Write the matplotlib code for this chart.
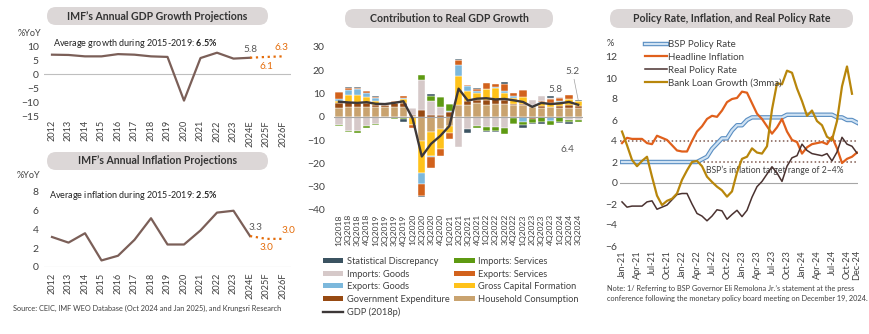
import numpy as np
import matplotlib
matplotlib.use("Agg")
import matplotlib.pyplot as plt
from matplotlib.patches import FancyBboxPatch, Patch
from matplotlib.lines import Line2D
import matplotlib.patheffects as pe

plt.rcParams["font.family"] = ["Lato", "DejaVu Sans"]
plt.rcParams["mathtext.fontset"] = "custom"
plt.rcParams["mathtext.rm"] = "Lato"
plt.rcParams["mathtext.bf"] = "Lato:bold"

# ---------------- data ----------------
years = ["2012", "2013", "2014", "2015", "2016", "2017", "2018", "2019",
         "2020", "2021", "2022", "2023", "2024E", "2025F", "2026F"]
gdp_hist = [6.9, 6.8, 6.3, 6.3, 7.1, 6.9, 6.3, 6.1, -9.5, 5.7, 7.6, 5.5, 5.8]
gdp_proj = [5.8, 6.1, 6.3]
cpi_hist = [3.2, 2.6, 3.6, 0.7, 1.2, 2.9, 5.2, 2.4, 2.4, 3.9, 5.8, 6.0, 3.3]
cpi_proj = [3.3, 3.0, 3.0]

quarters = [f"{q}Q{y}" for y in range(2018, 2025) for q in range(1, 5)][:27]
household = [4.0, 4.1, 4.1, 4.3, 4.4, 4.2, 4.4, 4.4, 0.2, -10.4, -6.6, -5.4, -4.0, 4.9,
             5.3, 6.0, 5.3, 5.6, 5.7, 5.0, 4.9, 4.3, 4.0, 4.2, 4.0, 3.7, 3.9]
government = [1.8, 2.1, 1.9, 1.6, 0.9, 0.9, 1.4, 1.6, 0.5, 2.9, 0.7, 0.7, 2.0, -0.7,
              1.4, 1.4, 2.1, 1.9, 1.6, 0.4, 0.8, -0.8, 0.5, 0.1, 0.7, 1.3, 0.7]
capital = [1.1, 3.3, 3.4, 2.8, 1.3, 0.2, 0.1, 1.6, -3.3, -13.6, -10.3, -8.6, -2.9, 12.6,
           4.6, 2.9, 4.6, 5.0, 3.0, 2.5, 2.7, 0.5, 1.3, 1.6, 1.7, 2.6, 2.0]
exp_goods = [0.8, 1.9, 2.6, 1.5, 1.4, 0.0, 0.3, 0.6, -0.4, -4.7, -0.3, 0.0, 0.7, 4.7,
             1.9, 1.0, 0.0, 0.4, 0.6, 1.1, -2.3, 0.3, 0.4, -1.9, 0.6, 0.2, -0.6]
exp_serv = [2.9, 1.0, 0.5, 0.9, 0.7, 0.3, 0.4, 0.8, -0.9, -5.3, -4.6, -2.9, -2.6, 2.1,
            0.6, 0.6, 2.6, 1.0, 3.0, 1.3, 3.0, 0.1, 0.8, 1.6, 1.2, 1.5, 0.4]
imp_goods = [-3.4, -6.0, -6.1, -3.8, -3.0, -0.2, -0.3, -0.2, 3.2, 13.1, 6.0, 3.7, 0.0, -12.1,
             -5.1, -4.0, -4.3, -4.3, -4.7, -0.3, 0.0, 2.2, 1.9, 0.5, 0.4, -1.3, -0.8]
imp_serv = [-0.6, -0.7, -0.7, -1.0, -0.5, -0.3, -0.5, -0.6, 0.0, 1.9, 2.3, 4.1, 2.9, 0.0,
            0.0, -0.6, -1.9, -1.6, -2.6, -2.6, -1.3, -1.7, -2.3, -1.5, -2.0, -0.9, -0.8]
stat_disc = [0.0, 0.6, 0.3, 0.0, 0.4, 0.4, 0.2, -1.5, 0.0, -0.6, 1.0, 0.1, 0.0, 0.6,
             -1.7, 0.5, -0.4, -0.5, 1.1, -0.3, -1.4, -0.6, -0.6, 0.9, -0.8, -0.7, 0.4]
gdp_q = [6.5, 6.2, 6.0, 6.3, 5.6, 5.5, 6.0, 6.7, -0.7, -17.0, -11.6, -8.2, -3.9, 12.1,
         7.0, 7.8, 8.0, 7.5, 7.7, 7.1, 6.4, 4.3, 6.0, 5.5, 5.8, 6.4, 5.2]

months = [f"{m}-{y}" for y in ("21", "22", "23", "24")
          for m in ("Jan", "Feb", "Mar", "Apr", "May", "Jun",
                    "Jul", "Aug", "Sep", "Oct", "Nov", "Dec")]
month_ticks = ["Jan-21", "Apr-21", "Jul-21", "Oct-21", "Jan-22", "Apr-22", "Jul-22",
               "Oct-22", "Jan-23", "Apr-23", "Jul-23", "Oct-23", "Jan-24", "Apr-24",
               "Jul-24", "Oct-24", "Dec-24"]
policy_rate = [2.0, 2.0, 2.0, 2.0, 2.0, 2.0, 2.0, 2.0, 2.0, 2.0, 2.0, 2.0, 2.0, 2.0, 2.0, 2.0,
               2.25, 2.5, 3.25, 3.75, 4.25, 4.25, 5.0, 5.5, 5.5, 6.0, 6.25, 6.25, 6.25, 6.25,
               6.25, 6.25, 6.25, 6.5, 6.5, 6.5, 6.5, 6.5, 6.5, 6.5, 6.5, 6.5, 6.5,
               6.25, 6.25, 6.0, 6.0, 5.75]
headline = [3.8, 4.3, 4.2, 4.2, 4.2, 3.8, 3.7, 4.5, 4.3, 4.1, 3.6, 3.1, 3.0, 3.0, 4.0, 4.9,
            5.4, 6.1, 6.4, 6.3, 6.9, 7.7, 8.0, 8.1, 8.7, 8.6, 7.6, 6.6, 6.1, 5.4, 4.7, 5.3,
            6.1, 4.9, 4.1, 3.9, 2.8, 3.4, 3.7, 3.8, 3.9, 3.7, 4.4, 3.3, 1.9, 2.3, 2.5, 2.9]
real_rate = [-1.8, -2.3, -2.2, -2.2, -2.2, -1.8, -1.7, -2.5, -2.3, -2.1, -1.6, -1.1, -1.0,
             -1.0, -2.0, -2.9, -3.15, -3.6, -3.15, -2.55, -2.65, -3.45, -3.0, -2.6, -3.2,
             -2.6, -1.35, -0.35, 0.15, 0.85, 1.55, 0.95, 0.15, 1.6, 2.4, 2.6, 3.7, 3.1,
             2.8, 2.7, 2.6, 2.8, 2.1, 2.95, 4.35, 3.7, 3.5, 2.85]
loan_growth = [4.9, 3.6, 2.2, 1.6, 2.1, 2.5, 0.6, -1.2, -2.1, -1.7, -1.5, -1.0, 0.3, 1.2,
               2.0, 2.1, 1.6, 0.6, 0.1, -0.35, -0.7, -1.3, -0.8, 1.0, 2.3, 2.5, 3.3, 2.9,
               2.8, 3.5, 7.0, 9.5, 9.4, 10.7, 10.5, 9.0, 7.8, 6.4, 6.9, 5.9, 5.5, 4.4, 4.1,
               5.9, 9.2, 11.1, 8.5]

# ---------------- figure ----------------
W, H = 870, 334
fig = plt.figure(figsize=(W / 100, H / 100), dpi=100)

TXT = "#404040"
ORANGE = "#e46c0a"


def add_axes_px(x0, y0, x1, y1):
    return fig.add_axes([x0 / W, 1 - y1 / H, (x1 - x0) / W, (y1 - y0) / H])


def title_box(x0, y0, x1, y1, text):
    box = FancyBboxPatch((x0 / 100, (H - y1) / 100), (x1 - x0) / 100, (y1 - y0) / 100,
                         boxstyle="round,pad=0,rounding_size=0.09",
                         transform=fig.dpi_scale_trans, fc="#dcd7d7", ec="none")
    fig.add_artist(box)
    fig.text((x0 + x1) / 2 / W, 1 - (y0 + y1) / 2 / H, text, ha="center", va="center",
             fontsize=7.6, fontweight="bold", color="#333333")


def fig_text(x, y, s, **kw):
    kw.setdefault("color", TXT)
    fig.text(x / W, 1 - y / H, s, **kw)


def clean(ax):
    for s in ax.spines.values():
        s.set_visible(False)
    ax.tick_params(length=0, labelsize=7.5, colors=TXT)


xy = np.arange(len(years))

# --- IMF GDP ---
title_box(47, 7, 268, 25, "IMF\u2019s Annual GDP Growth Projections")
ax1 = add_axes_px(43.75, 37.6, 291.25, 116)
clean(ax1)
ax1.axhline(0, color="#bfbfbf", lw=0.8)
ax1.plot(xy[:len(gdp_hist)], gdp_hist, color="#7b5f58", lw=1.6)
ax1.plot(xy[len(gdp_hist) - 1:], gdp_proj, color=ORANGE, lw=1.6, ls=":")
ax1.set_xlim(-0.5, 14.5)
ax1.set_ylim(-15, 13)
ax1.set_yticks([-15, -10, -5, 0, 5, 10])
ax1.set_xticks(xy, years, rotation=90, fontsize=6.6)
ax1.tick_params(axis="x", pad=3)
ax1.annotate("5.8", (12, gdp_proj[0]), xytext=(0, 3), textcoords="offset points",
             ha="center", va="bottom", fontsize=7.2, color="#595959")
ax1.annotate("6.1", (13, gdp_proj[1]), xytext=(0, -4), textcoords="offset points",
             ha="center", va="top", fontsize=7.2, color=ORANGE)
ax1.annotate("6.3", (14, gdp_proj[2]), xytext=(-1, 3), textcoords="offset points",
             ha="center", va="bottom", fontsize=7.2, color=ORANGE)
fig_text(18, 33, "%YoY", fontsize=6.6, va="center")
fig_text(53, 43, r"Average growth during 2015-2019: $\mathbf{6.5\%}$", fontsize=6.5,
         va="center", color="#222222")

# --- IMF inflation ---
title_box(47, 152, 268, 170, "IMF\u2019s Annual Inflation Projections")
ax2 = add_axes_px(43.75, 182.6, 291.25, 267)
clean(ax2)
ax2.axhline(0, color="#bfbfbf", lw=0.8)
ax2.plot(xy[:len(cpi_hist)], cpi_hist, color="#7b5f58", lw=1.6)
ax2.plot(xy[len(cpi_hist) - 1:], cpi_proj, color=ORANGE, lw=1.6, ls=":")
ax2.set_xlim(-0.5, 14.5)
ax2.set_ylim(0, 9)
ax2.set_yticks([0, 2, 4, 6, 8])
ax2.set_xticks(xy, years, rotation=90, fontsize=6.6)
ax2.tick_params(axis="x", pad=4)
ax2.annotate("3.3", (12, cpi_proj[0]), xytext=(-1, 3), textcoords="offset points",
             ha="left", va="bottom", fontsize=7.2, color="#595959")
ax2.annotate("3.0", (13, cpi_proj[1]), xytext=(0, -3), textcoords="offset points",
             ha="center", va="top", fontsize=7.2, color=ORANGE)
ax2.annotate("3.0", (14, cpi_proj[2]), xytext=(-1, 3), textcoords="offset points",
             ha="left", va="bottom", fontsize=7.2, color=ORANGE)
fig_text(17, 175, "%YoY", fontsize=6.6, va="center")
fig_text(49, 195, r"Average inflation during 2015-2019: $\mathbf{2.5\%}$", fontsize=6.5,
         va="center", color="#222222")
fig_text(13, 308, "Source: CEIC, IMF WEO Database (Oct 2024 and Jan 2025), and Krungsri Research",
         fontsize=5.3, va="center")

# --- contribution to GDP ---
title_box(345, 9, 553, 28, "Contribution to Real GDP Growth")
ax3 = add_axes_px(334.4, 47, 582.8, 210)
clean(ax3)
xq = np.arange(len(quarters))
series = [
    ("Household Consumption", household, "#c9a36f"),
    ("Government Expenditure", government, "#974a12"),
    ("Gross Capital Formation", capital, "#ffc21a"),
    ("Exports: Goods", exp_goods, "#7cb8dc"),
    ("Exports: Services", exp_serv, "#d2621c"),
    ("Imports: Goods", imp_goods, "#d6c9c9"),
    ("Imports: Services", imp_serv, "#5e9a12"),
    ("Statistical Discrepancy", stat_disc, "#3b5361"),
]
pos = np.zeros(len(quarters))
neg = np.zeros(len(quarters))
handles = {}
for name, vals, col in series:
    v = np.array(vals)
    bottom = np.where(v >= 0, pos, neg)
    ax3.bar(xq, v, 0.78, bottom=bottom, color=col, edgecolor="white", linewidth=0.3)
    pos = pos + np.clip(v, 0, None)
    neg = neg + np.clip(v, None, 0)
    handles[name] = Patch(facecolor=col, edgecolor="none")
ax3.axhline(0, color="#a6a6a6", lw=0.8, zorder=2.5)
ax3.plot(xq, gdp_q, color="#3d3838", lw=1.7, zorder=3)
ax3.set_xlim(-0.5, 26.5)
ax3.set_ylim(-40, 30)
ax3.set_yticks(range(-40, 31, 10))
ax3.tick_params(axis="y", pad=7)
ax3.set_xticks(xq, quarters, rotation=90, fontsize=6.1)
ax3.tick_params(axis="x", pad=3)
ax3.annotate("5.8", (24, gdp_q[24]), xytext=(-3, 7), textcoords="offset points",
             ha="center", va="bottom", fontsize=7.2, color="#595959")
ax3.annotate("6.4", (25, gdp_q[25]), xytext=(-1, -31), textcoords="offset points",
             ha="center", va="top", fontsize=7.2, color="#595959")
ax3.annotate("5.2", (26, gdp_q[26] + 2), xytext=(-4, 17), textcoords="offset points",
             ha="center", va="bottom", fontsize=7.2, color="#595959",
             arrowprops=dict(arrowstyle="-", color="#a0a0a0", lw=0.5, shrinkA=0, shrinkB=0))
order = ["Statistical Discrepancy", "Imports: Goods", "Exports: Goods", "Government Expenditure",
         "GDP (2018p)", "Imports: Services", "Exports: Services", "Gross Capital Formation",
         "Household Consumption"]
handles["GDP (2018p)"] = Line2D([], [], color="#3d3838", lw=1.7)
fig.legend([handles[k] for k in order], order, loc="upper left",
           bbox_to_anchor=(323 / W, 1 - 257 / H), ncol=2, frameon=False, fontsize=6.7,
           handlelength=2.2, handleheight=0.5, handletextpad=0.35, columnspacing=0.5,
           labelspacing=0.38, borderpad=0, borderaxespad=0, labelcolor=TXT)

# --- policy rate ---
title_box(610, 9, 853, 28, "Policy Rate, Inflation, and Real Policy Rate")
ax4 = add_axes_px(620, 46.5, 858.5, 246)
clean(ax4)
xm = np.arange(len(months))
ax4.axhline(0, color="#a6a6a6", lw=0.8)
for lvl in (2, 4):
    ax4.axhline(lvl, color="#7f5a50", lw=1.1, ls=(0, (1, 1.6)))
ax4.text(30.6, 1.25, "BSP\u2019s inflation target range of 2\u20134%", ha="center",
         va="center", fontsize=6.2, color=TXT, zorder=1)
blue_fx = [pe.Stroke(linewidth=3.2, foreground="#5a8ec2"), pe.Normal()]
ax4.plot(xm, policy_rate, color="#cfe2f3", lw=1.6, path_effects=blue_fx, zorder=3)
ax4.plot(xm, headline, color="#e0601c", lw=1.6, zorder=4)
ax4.plot(xm, real_rate, color="#4a3230", lw=1.1, zorder=5)
ax4.plot(xm[:len(loan_growth)], loan_growth, color="#b8860b", lw=1.6, zorder=6)
ax4.set_xlim(-0.4, 47.3)
ax4.set_ylim(-6, 13)
ax4.set_yticks(range(-6, 13, 2))
ax4.tick_params(axis="y", pad=2)
ax4.set_xticks([months.index(t) for t in month_ticks], month_ticks, rotation=90, fontsize=6.6)
ax4.tick_params(axis="x", pad=3)
fig_text(607, 43, "%", fontsize=6.6, va="center")
leg_h = [Line2D([], [], color="#cfe2f3", lw=1.6, path_effects=blue_fx),
         Line2D([], [], color="#e0601c", lw=1.6),
         Line2D([], [], color="#4a3230", lw=1.1),
         Line2D([], [], color="#b8860b", lw=1.6)]
fig.legend(leg_h, ["BSP Policy Rate", "Headline Inflation", "Real Policy Rate",
                   "Bank Loan Growth (3mma)"],
           loc="upper left", bbox_to_anchor=(645 / W, 1 - 40 / H), frameon=False,
           fontsize=7, handlelength=2.3, handletextpad=0.1, labelspacing=0.4,
           borderpad=0, borderaxespad=0, labelcolor=TXT)
fig_text(607, 288, "Note: 1/ Referring to BSP Governor Eli Remolona Jr.\u2019s statement at the press",
         fontsize=5.3, va="center")
fig_text(607, 298, "conference following the monetary policy board meeting on December 19, 2024.",
         fontsize=5.3, va="center")

fig.savefig("out.png", dpi=100)
